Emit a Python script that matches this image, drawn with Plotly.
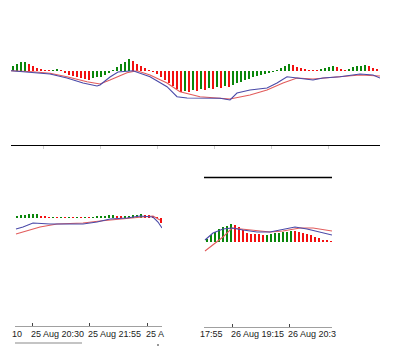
import plotly.graph_objects as go

# the page body adds an 8px margin, so the figure is drawn 8px in from the window edge
OX, OY = 8, 8
W, H = 384, 340

# ---------------- data ----------------
# top panel histogram (one value per bar)
top_hist = [5, 7, 9, 9.5, 7, 5, 3, 2, 1, 0.5, 1, 1.5, 0.5, -2, -4, -5, -6, -7, -8, -9,
            -7, -6, -5.5, -4, -2, 1, 4, 7, 9, 12, 10, 7, 5, 3, 1, -1, -3, -6, -9, -12,
            -15, -18, -21, -20, -21, -19, -20, -18, -19, -17, -18, -16, -17, -15, -16, -14, -12, -11, -9, -8,
            -6, -5, -4, -3, -2, -0.5, 0.5, 3, 5.5, 7, 6, 4.5, 3.5, 2, 1, 0.5, 0.3, 2, 3.5, 4.5,
            5, 4, 2.5, 1, 2.5, 4, 5, 5.5, 6, 5, 3.5, 2]
top_macd_x = [-0.5, 5, 9.25, 13.5, 17.5, 21, 21.75, 24.25, 26.25, 30, 34.25, 38.5, 41, 43.5, 46.75,
              51.75, 54.25, 56, 59.25, 63.5, 66, 68.5, 71, 75, 77.5, 81.75, 86.75, 90, 91.75]
top_macd_y = [0.3, -1.7, -3, -7, -12, -15, -14, -6, -1, 0.3, -5.7, -15.7, -25.7, -27, -27,
              -27.3, -29, -22, -19, -17, -12, -5.7, -7, -9, -7, -5.7, -3, -4, -7]
top_sig_x = [-0.5, 5, 9.25, 13.5, 18.5, 21.75, 24.25, 28.5, 31, 34.25, 38.5, 41.75, 46.75, 54.25,
             59.25, 63.5, 67.5, 71, 75, 80, 86.75, 91.75]
top_sig_y = [0.3, -0.7, -2.3, -5.7, -10.7, -13, -9, -1.7, 0.3, -4, -12, -20.7, -25.7, -28,
             -24, -19, -12, -7, -8, -6, -4, -5]
top_ticks = [7.5, 21.75, 36, 50.25, 64.5, 78.75]

# bottom-left panel
bl_hist = [2, 2.8, 3.3, 3.7, 3.8, 4, 2.5, 1.2, 0.5, 0.6, 0.4, 0.5, 0.3, 0.5, 0.3, 0.4, 0.2, 0.5, 0.4, 0.8,
           1.2, 2, 2.5, 2.8, 3, 2, 1.5, 1.5, 2, 3, 3.5, 4, 3.5, 3, 2, 1, -5]
bl_macd_x = [-0.25, 1.5, 4, 8.25, 12.5, 16.5, 20, 23.25, 27.5, 30.75, 34, 35.25, 36.25]
bl_macd_y = [-11, -9, -5, -6, -6, -6, -4, -1, 0, 2, 1, -4, -10]
bl_sig_x = [-0.25, 2.5, 5.75, 10, 16.5, 20.75, 25.75, 30.75, 34, 35.75]
bl_sig_y = [-16, -13, -9, -6, -5, -3, -1, 1, 2, -2]
bl_ticks = [3.75, 18, 32.5]
bl_labels = ["10", "25 Aug 20:30", "25 Aug 21:55", "25 A"]
bl_label_x = [1.5, 3.75, 18, 32.5]
bl_label_anchor = ["right", "left", "left", "left"]

# bottom-right panel
br_hist = [3, 7, 10, 13, 15, 16.5, 17.7, 17, 15, 12, 9.5, 8.5, 8, 7.7, 7.3, 7.5, 8, 8.7, 9.3, 10,
           10.5, 11, 10.7, 10, 9, 8, 7, 5.5, 4, 2.5, 1.2, 0.5]
br_macd_x = [-0.5, 1.5, 4, 6.25, 9, 12.5, 15.75, 19, 22, 25, 28.25, 31.25]
br_macd_y = [2, 9, 13, 14, 12, 10, 10, 13, 15, 13, 10, 7]
br_sig_x = [-0.5, 1.5, 4, 6.25, 9, 12.5, 15.75, 19, 23.25, 26.5, 31.25]
br_sig_y = [-9, -3, 5, 14, 13, 11, 10, 11, 14, 14, 11]
br_ticks = [6.25, 20.5]
br_labels = ["17:55", "26 Aug 19:15", "26 Aug 20:3"]
br_label_x = [4.25, 6.25, 20.5]
br_label_anchor = ["right", "left", "left"]

GREEN = "#0a860a"
RED = "#f21010"
BLUE = "#4a4aa8"
PINK = "#e25c5c"


def colors(vals):
    out = []
    for i, v in enumerate(vals):
        out.append(GREEN if i == 0 or v >= vals[i - 1] else RED)
    return out


def px(x):
    return (x - OX) / W


def py(y):
    return 1 - (y - OY) / H


fig = go.Figure()

panels = [
    ("x", "y", top_hist, top_macd_x, top_macd_y, top_sig_x, top_sig_y),
    ("x2", "y2", bl_hist, bl_macd_x, bl_macd_y, bl_sig_x, bl_sig_y),
    ("x3", "y3", br_hist, br_macd_x, br_macd_y, br_sig_x, br_sig_y),
]
for xa, ya, hist, mx, my, sx, sy in panels:
    fig.add_trace(go.Bar(x=list(range(len(hist))), y=hist, marker_color=colors(hist),
                         marker_line_width=0, width=0.68, xaxis=xa, yaxis=ya))
    fig.add_trace(go.Scatter(x=sx, y=sy, mode="lines", line=dict(color=PINK, width=1.1),
                             xaxis=xa, yaxis=ya))
    fig.add_trace(go.Scatter(x=mx, y=my, mode="lines", line=dict(color=BLUE, width=1.1),
                             xaxis=xa, yaxis=ya))

common_y = dict(visible=False, showgrid=False, zeroline=False, fixedrange=True)

fig.update_layout(
    width=W, height=H, autosize=False,
    margin=dict(l=0, r=0, t=0, b=0),
    paper_bgcolor="white", plot_bgcolor="white",
    showlegend=False, bargap=0,
    font=dict(family="Liberation Sans, Arial, sans-serif", size=9, color="#222"),
    xaxis=dict(domain=[px(11), px(380)], range=[-0.5, 91.75], anchor="y",
               showline=True, linecolor="black", linewidth=1.3, showgrid=False, zeroline=False,
               ticks="outside", ticklen=3, tickcolor="#cfcfcf", tickvals=top_ticks,
               showticklabels=False),
    yaxis=dict(domain=[py(145), py(40)], range=[-74, 31], anchor="x", **common_y),
    xaxis2=dict(domain=[px(15), px(162)], range=[-0.5, 36.25], anchor="y2",
                showline=True, linecolor="#a0a0a0", linewidth=1, showgrid=False, zeroline=False,
                ticks="inside", ticklen=3, tickcolor="#444", tickvals=bl_ticks,
                showticklabels=False),
    yaxis2=dict(domain=[py(326), py(180)], range=[-108, 38], anchor="x2", **common_y),
    xaxis3=dict(domain=[px(204), px(332)], range=[-0.75, 31.25], anchor="y3",
                showline=True, linecolor="#a0a0a0", linewidth=1, showgrid=False, zeroline=False,
                ticks="inside", ticklen=3, tickcolor="#444", tickvals=br_ticks,
                showticklabels=False),
    yaxis3=dict(domain=[py(327), py(180)], range=[-85, 62], anchor="x3", **common_y),
)

# black rule above bottom-right panel
fig.add_shape(type="line", xref="x3 domain", yref="paper", x0=0, x1=1,
              y0=py(177.5), y1=py(177.5), line=dict(color="black", width=1.3))
# scrollbar under bottom-left panel
fig.add_shape(type="line", xref="paper", yref="paper", x0=px(15), x1=px(82),
              y0=py(343), y1=py(343), line=dict(color="#c4c4c4", width=2))
fig.add_shape(type="line", xref="paper", yref="paper", x0=px(157), x1=px(159),
              y0=py(345), y1=py(345), line=dict(color="#777", width=1.5))

for lab, lx, anc in zip(bl_labels, bl_label_x, bl_label_anchor):
    fig.add_annotation(text=lab, x=lx, xref="x2", y=py(334), yref="paper",
                       xanchor=anc, yanchor="middle", showarrow=False,
                       xshift=-2 if anc == "left" else 0, borderpad=0)
for lab, lx, anc in zip(br_labels, br_label_x, br_label_anchor):
    fig.add_annotation(text=lab, x=lx, xref="x3", y=py(334), yref="paper",
                       xanchor=anc, yanchor="middle", showarrow=False,
                       xshift=-2 if anc == "left" else 0, borderpad=0)

fig.write_html("out.html")
